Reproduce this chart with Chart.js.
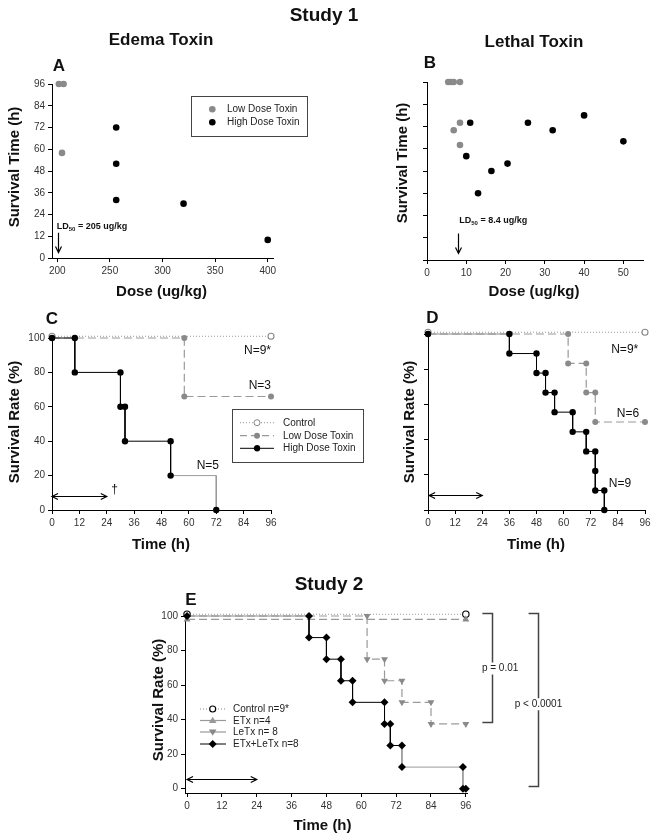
<!DOCTYPE html>
<html><head><meta charset="utf-8">
<script src="https://cdn.jsdelivr.net/npm/chart.js@4.4.0/dist/chart.umd.min.js"></script>
<style>
body{margin:0;background:#fff;width:660px;height:838px;position:relative;overflow:hidden;font-family:"Liberation Sans",Arial,Helvetica,sans-serif;}
canvas{position:absolute;}
.t{position:absolute;transform:translate(-50%,-50%);white-space:nowrap;font-weight:bold;color:#111;line-height:1;}
.r{transform:translate(-50%,-50%) rotate(-90deg);}
.lg{position:absolute;font-size:10px;color:#222;line-height:1;transform:translateY(-50%);white-space:nowrap;}
svg{position:absolute;left:0;top:0;}
</style></head><body>
<canvas id="cA"></canvas><canvas id="cB"></canvas><canvas id="cC"></canvas><canvas id="cD"></canvas><canvas id="cE"></canvas>
<svg width="660" height="838" viewBox="0 0 660 838">
  <!-- legend A -->
  <rect x="191.5" y="96.5" width="116" height="40" fill="#fff" stroke="#444" stroke-width="1"/>
  <circle cx="212.3" cy="109.3" r="3.3" fill="#8a8a8a"/>
  <circle cx="212.3" cy="122.3" r="3.3" fill="#000"/>
  <!-- legend C -->
  <rect x="232.5" y="409.5" width="131" height="53" fill="#fff" stroke="#444" stroke-width="1"/>
  <line x1="240" y1="422.7" x2="274" y2="422.7" stroke="#999" stroke-width="1" stroke-dasharray="1,2"/>
  <circle cx="257" cy="422.7" r="3" fill="#fff" stroke="#888" stroke-width="1"/>
  <line x1="240" y1="435.7" x2="274" y2="435.7" stroke="#999" stroke-width="1.2" stroke-dasharray="7,4"/>
  <circle cx="257" cy="435.7" r="3" fill="#888"/>
  <line x1="240" y1="448.3" x2="274" y2="448.3" stroke="#000" stroke-width="1"/>
  <circle cx="257" cy="448.3" r="3.2" fill="#000"/>
  <!-- legend E -->
  <line x1="200" y1="709" x2="226" y2="709" stroke="#888" stroke-width="1" stroke-dasharray="1,2"/>
  <circle cx="212.7" cy="709" r="3" fill="#fff" stroke="#000" stroke-width="1.2"/>
  <line x1="200" y1="720.5" x2="226" y2="720.5" stroke="#999" stroke-width="1.2"/>
  <polygon points="212.7,716.8 216.5,723 208.9,723" fill="#999"/>
  <line x1="200" y1="732" x2="226" y2="732" stroke="#999" stroke-width="1.2"/>
  <polygon points="212.7,735.7 216.5,729.5 208.9,729.5" fill="#888"/>
  <line x1="200" y1="744" x2="226" y2="744" stroke="#000" stroke-width="1"/>
  <polygon points="212.7,740 216.7,744 212.7,748 208.7,744" fill="#000"/>
</svg>
<div class="lg" style="left:227px;top:109.3px">Low Dose Toxin</div>
<div class="lg" style="left:227px;top:122.3px">High Dose Toxin</div>
<div class="lg" style="left:283px;top:422.7px">Control</div>
<div class="lg" style="left:283px;top:435.7px">Low Dose Toxin</div>
<div class="lg" style="left:283px;top:448.3px">High Dose Toxin</div>
<div class="lg" style="left:233px;top:709px">Control n=9*</div>
<div class="lg" style="left:233px;top:720.5px">ETx n=4</div>
<div class="lg" style="left:233px;top:732px">LeTx n= 8</div>
<div class="lg" style="left:233px;top:744px">ETx+LeTx n=8</div>

<div class="t" style="left:324px;top:14px;font-size:19px">Study 1</div>
<div class="t" style="left:161px;top:39px;font-size:17px">Edema Toxin</div>
<div class="t" style="left:534px;top:41px;font-size:17px">Lethal Toxin</div>
<div class="t" style="left:59px;top:65px;font-size:17px">A</div>
<div class="t" style="left:430px;top:61.5px;font-size:17px">B</div>
<div class="t r" style="left:13px;top:167px;font-size:15px">Survival Time (h)</div>
<div class="t r" style="left:401px;top:163px;font-size:15px">Survival Time (h)</div>
<div class="t" style="left:161.5px;top:290px;font-size:15px">Dose (ug/kg)</div>
<div class="t" style="left:534px;top:290px;font-size:15px">Dose (ug/kg)</div>
<div class="t" style="left:52px;top:317.5px;font-size:17px">C</div>
<div class="t" style="left:432.5px;top:317px;font-size:17px">D</div>
<div class="t r" style="left:13px;top:422px;font-size:15px">Survival Rate (%)</div>
<div class="t r" style="left:408px;top:422px;font-size:15px">Survival Rate (%)</div>
<div class="t" style="left:161px;top:543px;font-size:15px">Time (h)</div>
<div class="t" style="left:536px;top:543px;font-size:15px">Time (h)</div>
<div class="t" style="left:329px;top:583px;font-size:19px">Study 2</div>
<div class="t" style="left:191px;top:598.5px;font-size:17px">E</div>
<div class="t r" style="left:157px;top:700px;font-size:15px">Survival Rate (%)</div>
<div class="t" style="left:322.5px;top:824px;font-size:15px">Time (h)</div>

<script>
// ---------------- DATA ----------------
// Panel A: Edema toxin dose vs survival time
const A_LOW_DOSE  = [201.5, 206, 204.5];
const A_LOW_TIME  = [96, 96, 58];
const A_HIGH_DOSE = [256, 256, 256, 320, 400];
const A_HIGH_TIME = [72, 52, 32, 30, 10];
const A_DOSE_TICKS = [200, 250, 300, 350, 400];
const SURV_TIME_TICKS = [0, 12, 24, 36, 48, 60, 72, 84, 96];

// Panel B: Lethal toxin dose vs survival time
const B_LOW_DOSE  = [5.4, 6.1, 6.8, 8.4, 8.4, 6.8, 8.4];
const B_LOW_TIME  = [96, 96, 96, 96, 74, 70, 62];
const B_HIGH_DOSE = [11, 10, 13, 16.4, 20.5, 25.7, 32, 40, 50];
const B_HIGH_TIME = [74, 56, 36, 48, 52, 74, 70, 78, 64];
const B_DOSE_TICKS = [0, 10, 20, 30, 40, 50];

// Survival curves (time h, survival %)
const TIME_TICKS = [0, 12, 24, 36, 48, 60, 72, 84, 96];
const RATE_TICKS = [0, 20, 40, 60, 80, 100];

const C_CONTROL_T = [0, 96];
const C_CONTROL_S = [101, 101];
const C_LOW_T = [0, 58, 58, 96];
const C_LOW_S = [100, 100, 66, 66];
const C_HIGH_T = [0, 10, 10, 30, 30, 32, 32, 52, 52, 72, 72];
const C_HIGH_S = [100, 100, 80, 80, 60, 60, 40, 40, 20, 20, 0];

const D_CONTROL_T = [0, 96];
const D_CONTROL_S = [101, 101];
const D_LOW_T = [0, 62, 62, 70, 70, 74, 74, 96];
const D_LOW_S = [100, 100, 83.3, 83.3, 66.7, 66.7, 50, 50];
const D_HIGH_T = [0, 36, 36, 48, 48, 52, 52, 56, 56, 64, 64, 70, 70, 74, 74, 74, 78, 78];
const D_HIGH_S = [100, 100, 88.9, 88.9, 77.8, 77.8, 66.7, 66.7, 55.6, 55.6, 44.4, 44.4, 33.3, 33.3, 22.2, 11.1, 11.1, 0];

const E_CONTROL_T = [0, 96];
const E_CONTROL_S = [101, 101];
const E_ETX_T = [0, 96];
const E_ETX_S = [98, 98];
const E_LETX_T = [0, 62, 62, 68, 68, 74, 74, 84, 84, 96];
const E_LETX_S = [100, 100, 75, 75, 62.5, 62.5, 50, 50, 37.5, 37.5];
const E_COMBO_T = [0, 42, 42, 48, 48, 53, 53, 57, 57, 68, 68, 70, 70, 74, 74, 95, 95, 96];
const E_COMBO_S = [100, 100, 87.5, 87.5, 75, 75, 62.5, 62.5, 50, 50, 37.5, 37.5, 25, 25, 12.5, 12.5, 0, 0];

// ---------------- RENDER ----------------
const FONT = '"Liberation Sans", Arial, Helvetica, sans-serif';
const PAD_T = 12, YW = 40, XH = 26;
const ANNOT = {};

function pts(xs, ys) { return xs.map((x, i) => ({x: x, y: ys[i]})); }

function axisOpts(min, max, ticks, labels, which) {
  return {
    type: 'linear', min: min, max: max,
    afterBuildTicks: s => { s.ticks = ticks.map(v => ({value: v})); },
    afterFit: s => { if (which === 'x') s.height = XH; else s.width = YW; },
    grid: {drawOnChartArea: false, drawTicks: true, tickLength: 4, color: '#000', lineWidth: 1},
    border: {display: true, color: '#000', width: 1},
    ticks: {font: {size: 10, family: FONT}, color: '#333', padding: 3, autoSkip: false, maxRotation: 0,
            callback: labels ? (v => String(v)) : (() => '')}
  };
}

function drawVArrow(ctx, x, y0, y1) {
  ctx.beginPath(); ctx.moveTo(x, y0); ctx.lineTo(x, y1);
  ctx.moveTo(x - 3, y1 - 6); ctx.lineTo(x, y1); ctx.lineTo(x + 3, y1 - 6); ctx.stroke();
}
function drawHArrow(ctx, x0, x1, y) {
  ctx.beginPath(); ctx.moveTo(x0, y); ctx.lineTo(x1, y);
  ctx.moveTo(x0 + 6, y - 3); ctx.lineTo(x0, y); ctx.lineTo(x0 + 6, y + 3);
  ctx.moveTo(x1 - 6, y - 3); ctx.lineTo(x1, y); ctx.lineTo(x1 - 6, y + 3); ctx.stroke();
}

const annot = {
  id: 'annot',
  afterDatasetsDraw(chart) {
    const items = ANNOT[chart.canvas.id] || [];
    const ctx = chart.ctx, xs = chart.scales.x, ys = chart.scales.y;
    const X = v => xs.getPixelForValue(v), Y = v => ys.getPixelForValue(v);
    ctx.save();
    ctx.strokeStyle = '#000'; ctx.fillStyle = '#111'; ctx.lineWidth = 1.2;
    for (const it of items) {
      if (it.t === 'text') {
        ctx.font = (it.size || 12) + 'px ' + FONT;
        ctx.textAlign = it.align || 'left'; ctx.textBaseline = 'middle';
        ctx.fillStyle = '#111';
        ctx.fillText(it.s, X(it.x), Y(it.y));
      } else if (it.t === 'ld') {
        let x = X(it.x); const y = Y(it.y);
        ctx.textAlign = 'left'; ctx.textBaseline = 'middle'; ctx.fillStyle = '#111';
        ctx.font = 'bold 9px ' + FONT; ctx.fillText('LD', x, y); x += ctx.measureText('LD').width;
        ctx.font = 'bold 6px ' + FONT; ctx.fillText('50', x, y + 3); x += ctx.measureText('50').width;
        ctx.font = 'bold 9px ' + FONT; ctx.fillText(' = ' + it.s, x, y);
      } else if (it.t === 'varrow') {
        drawVArrow(ctx, Math.round(X(it.x)) + 0.5, Y(it.y0), Y(it.y1));
      } else if (it.t === 'harrow') {
        drawHArrow(ctx, X(it.x0), X(it.x1), Math.round(Y(it.y)) + 0.5);
      } else if (it.t === 'bracket') {
        const bx = Math.round(X(it.x)) + 0.5, tx = X(it.xt);
        const y0 = Math.round(Y(it.y0)) + 0.5, y1 = Math.round(Y(it.y1)) + 0.5;
        ctx.strokeStyle = '#444'; ctx.lineWidth = 1.5;
        ctx.beginPath(); ctx.moveTo(tx, y0); ctx.lineTo(bx, y0); ctx.lineTo(bx, y1); ctx.lineTo(tx, y1); ctx.stroke();
        ctx.font = '10px ' + FONT; ctx.textAlign = 'center'; ctx.textBaseline = 'middle';
        const w = ctx.measureText(it.s).width, lx = X(it.lx), ly = Y(it.ly);
        ctx.fillStyle = '#fff'; ctx.fillRect(lx - w / 2 - 1, ly - 6, w + 2, 12);
        ctx.fillStyle = '#222'; ctx.fillText(it.s, lx, ly);
        ctx.strokeStyle = '#000'; ctx.lineWidth = 1.2;
      }
    }
    ctx.restore();
  }
};

function makeChart(id, area, padR, xAxis, yAxis, datasets) {
  const cv = document.getElementById(id);
  const left = area.l - YW, top = area.t - PAD_T;
  const w = area.r + padR - left, h = area.b + XH - top;
  cv.width = w; cv.height = h;
  cv.style.left = left + 'px'; cv.style.top = top + 'px';
  cv.style.width = w + 'px'; cv.style.height = h + 'px';
  return new Chart(cv, {
    type: 'scatter',
    data: {datasets: datasets},
    options: {
      responsive: false, animation: false, events: [],
      layout: {padding: {top: PAD_T, right: padR, left: 0, bottom: 0}},
      scales: {x: xAxis, y: yAxis},
      plugins: {legend: {display: false}, tooltip: {enabled: false}}
    },
    plugins: [annot]
  });
}

const GR = '#8a8a8a';
function dots(xs, ys, color, r) {
  return {data: pts(xs, ys), pointRadius: r || 3.3, pointBackgroundColor: color, pointBorderColor: color, pointBorderWidth: 0, clip: false};
}

// ---- Panel A ----
ANNOT.cA = [
  {t: 'ld', x: 199.5, y: 17.5, s: '205 ug/kg'},
  {t: 'varrow', x: 201, y0: 14, y1: 3}
];
makeChart('cA', {l: 52, r: 273, t: 84, b: 258}, 14,
  axisOpts(195, 405, A_DOSE_TICKS, true, 'x'),
  axisOpts(0, 96, SURV_TIME_TICKS, true, 'y'),
  [dots(A_HIGH_DOSE, A_HIGH_TIME, '#000'), dots(A_LOW_DOSE, A_LOW_TIME, GR)]);

// ---- Panel B ----
ANNOT.cB = [
  {t: 'ld', x: 8.2, y: 21.3, s: '8.4 ug/kg'},
  {t: 'varrow', x: 7.8, y0: 14.3, y1: 3.5}
];
makeChart('cB', {l: 427, r: 643, t: 82, b: 260}, 14,
  axisOpts(0, 55, B_DOSE_TICKS, true, 'x'),
  axisOpts(0, 96, SURV_TIME_TICKS, false, 'y'),
  [dots(B_HIGH_DOSE, B_HIGH_TIME, '#000'), dots(B_LOW_DOSE, B_LOW_TIME, GR)]);

// ---- survival curve dataset builders ----
function controlSet(xs, ys, edge, r) {
  return {data: pts(xs, ys), showLine: true, borderColor: '#999', borderWidth: 1, borderDash: [1, 2],
          pointRadius: r || 3, pointBackgroundColor: '#fff', pointBorderColor: edge, pointBorderWidth: 1.1, clip: false};
}
function dashedSet(xs, ys, style, rot, r) {
  return {data: pts(xs, ys), showLine: true, borderColor: '#9a9a9a', borderWidth: 1.2, borderDash: [8, 4],
          pointStyle: style, pointRotation: rot || 0, pointRadius: r || 3,
          pointBackgroundColor: GR, pointBorderColor: GR, pointBorderWidth: 0, clip: false};
}
function solidSet(xs, ys, style, r, grayFrom, grayFirst, hideIdx) {
  return {data: pts(xs, ys), showLine: true, borderColor: '#000', borderWidth: 1,
          pointStyle: style, pointRadius: ctx => (ctx.dataIndex === hideIdx ? 0 : r),
          pointBackgroundColor: '#000', pointBorderColor: '#000', pointBorderWidth: 0, clip: false,
          segment: {borderColor: ctx => (ctx.p0DataIndex >= grayFrom ? '#9a9a9a' : (grayFirst && ctx.p0DataIndex === 0 ? '#888' : undefined))}};
}

// ---- Panel C ----
ANNOT.cC = [
  {t: 'text', x: 96, y: 92.5, s: 'N=9*', align: 'right'},
  {t: 'text', x: 96, y: 72, s: 'N=3', align: 'right'},
  {t: 'text', x: 68.3, y: 26, s: 'N=5', align: 'center'},
  {t: 'harrow', x0: 0, x1: 24, y: 8},
  {t: 'text', x: 27.4, y: 11.6, s: '\u2020', align: 'center'}
];
makeChart('cC', {l: 52, r: 271, t: 338, b: 510}, 14,
  axisOpts(0, 96, TIME_TICKS, true, 'x'),
  axisOpts(0, 100, RATE_TICKS, true, 'y'),
  [solidSet(C_HIGH_T, C_HIGH_S, 'circle', 3.2, 8, false, 9),
   dashedSet(C_LOW_T, C_LOW_S, 'circle', 0, 3),
   controlSet(C_CONTROL_T, C_CONTROL_S, '#888', 3)]);

// ---- Panel D ----
ANNOT.cD = [
  {t: 'text', x: 93, y: 91, s: 'N=9*', align: 'right'},
  {t: 'text', x: 93.4, y: 55, s: 'N=6', align: 'right'},
  {t: 'text', x: 80, y: 15.2, s: 'N=9', align: 'left'},
  {t: 'harrow', x0: 0.5, x1: 24, y: 8.5}
];
makeChart('cD', {l: 428, r: 645, t: 334, b: 510}, 14,
  axisOpts(0, 96, TIME_TICKS, true, 'x'),
  axisOpts(0, 100, RATE_TICKS, false, 'y'),
  [solidSet(D_HIGH_T, D_HIGH_S, 'circle', 3.2, 999, true, -1),
   dashedSet(D_LOW_T, D_LOW_S, 'circle', 0, 3),
   controlSet(D_CONTROL_T, D_CONTROL_S, '#888', 3)]);

// ---- Panel E ----
ANNOT.cE = [
  {t: 'harrow', x0: 0, x1: 24, y: 5.6},
  {t: 'bracket', x: 105, xt: 101.7, y0: 101.8, y1: 38.8, s: 'p = 0.01', lx: 107.8, ly: 69.6},
  {t: 'bracket', x: 121, xt: 117.6, y0: 101.8, y1: 1.3, s: 'p < 0.0001', lx: 121, ly: 48.9}
];
makeChart('cE', {l: 185, r: 467, t: 616, b: 793}, 100,
  axisOpts(-0.7, 96.4, TIME_TICKS, true, 'x'),
  axisOpts(-2.5, 100, RATE_TICKS, true, 'y'),
  [solidSet(E_COMBO_T, E_COMBO_S, 'rectRot', 4, 13, true, -1),
   dashedSet(E_LETX_T, E_LETX_S, 'triangle', 180, 4),
   dashedSet(E_ETX_T, E_ETX_S, 'triangle', 0, 4),
   controlSet(E_CONTROL_T, E_CONTROL_S, '#000', 3.2)]);
</script>
</body></html>
